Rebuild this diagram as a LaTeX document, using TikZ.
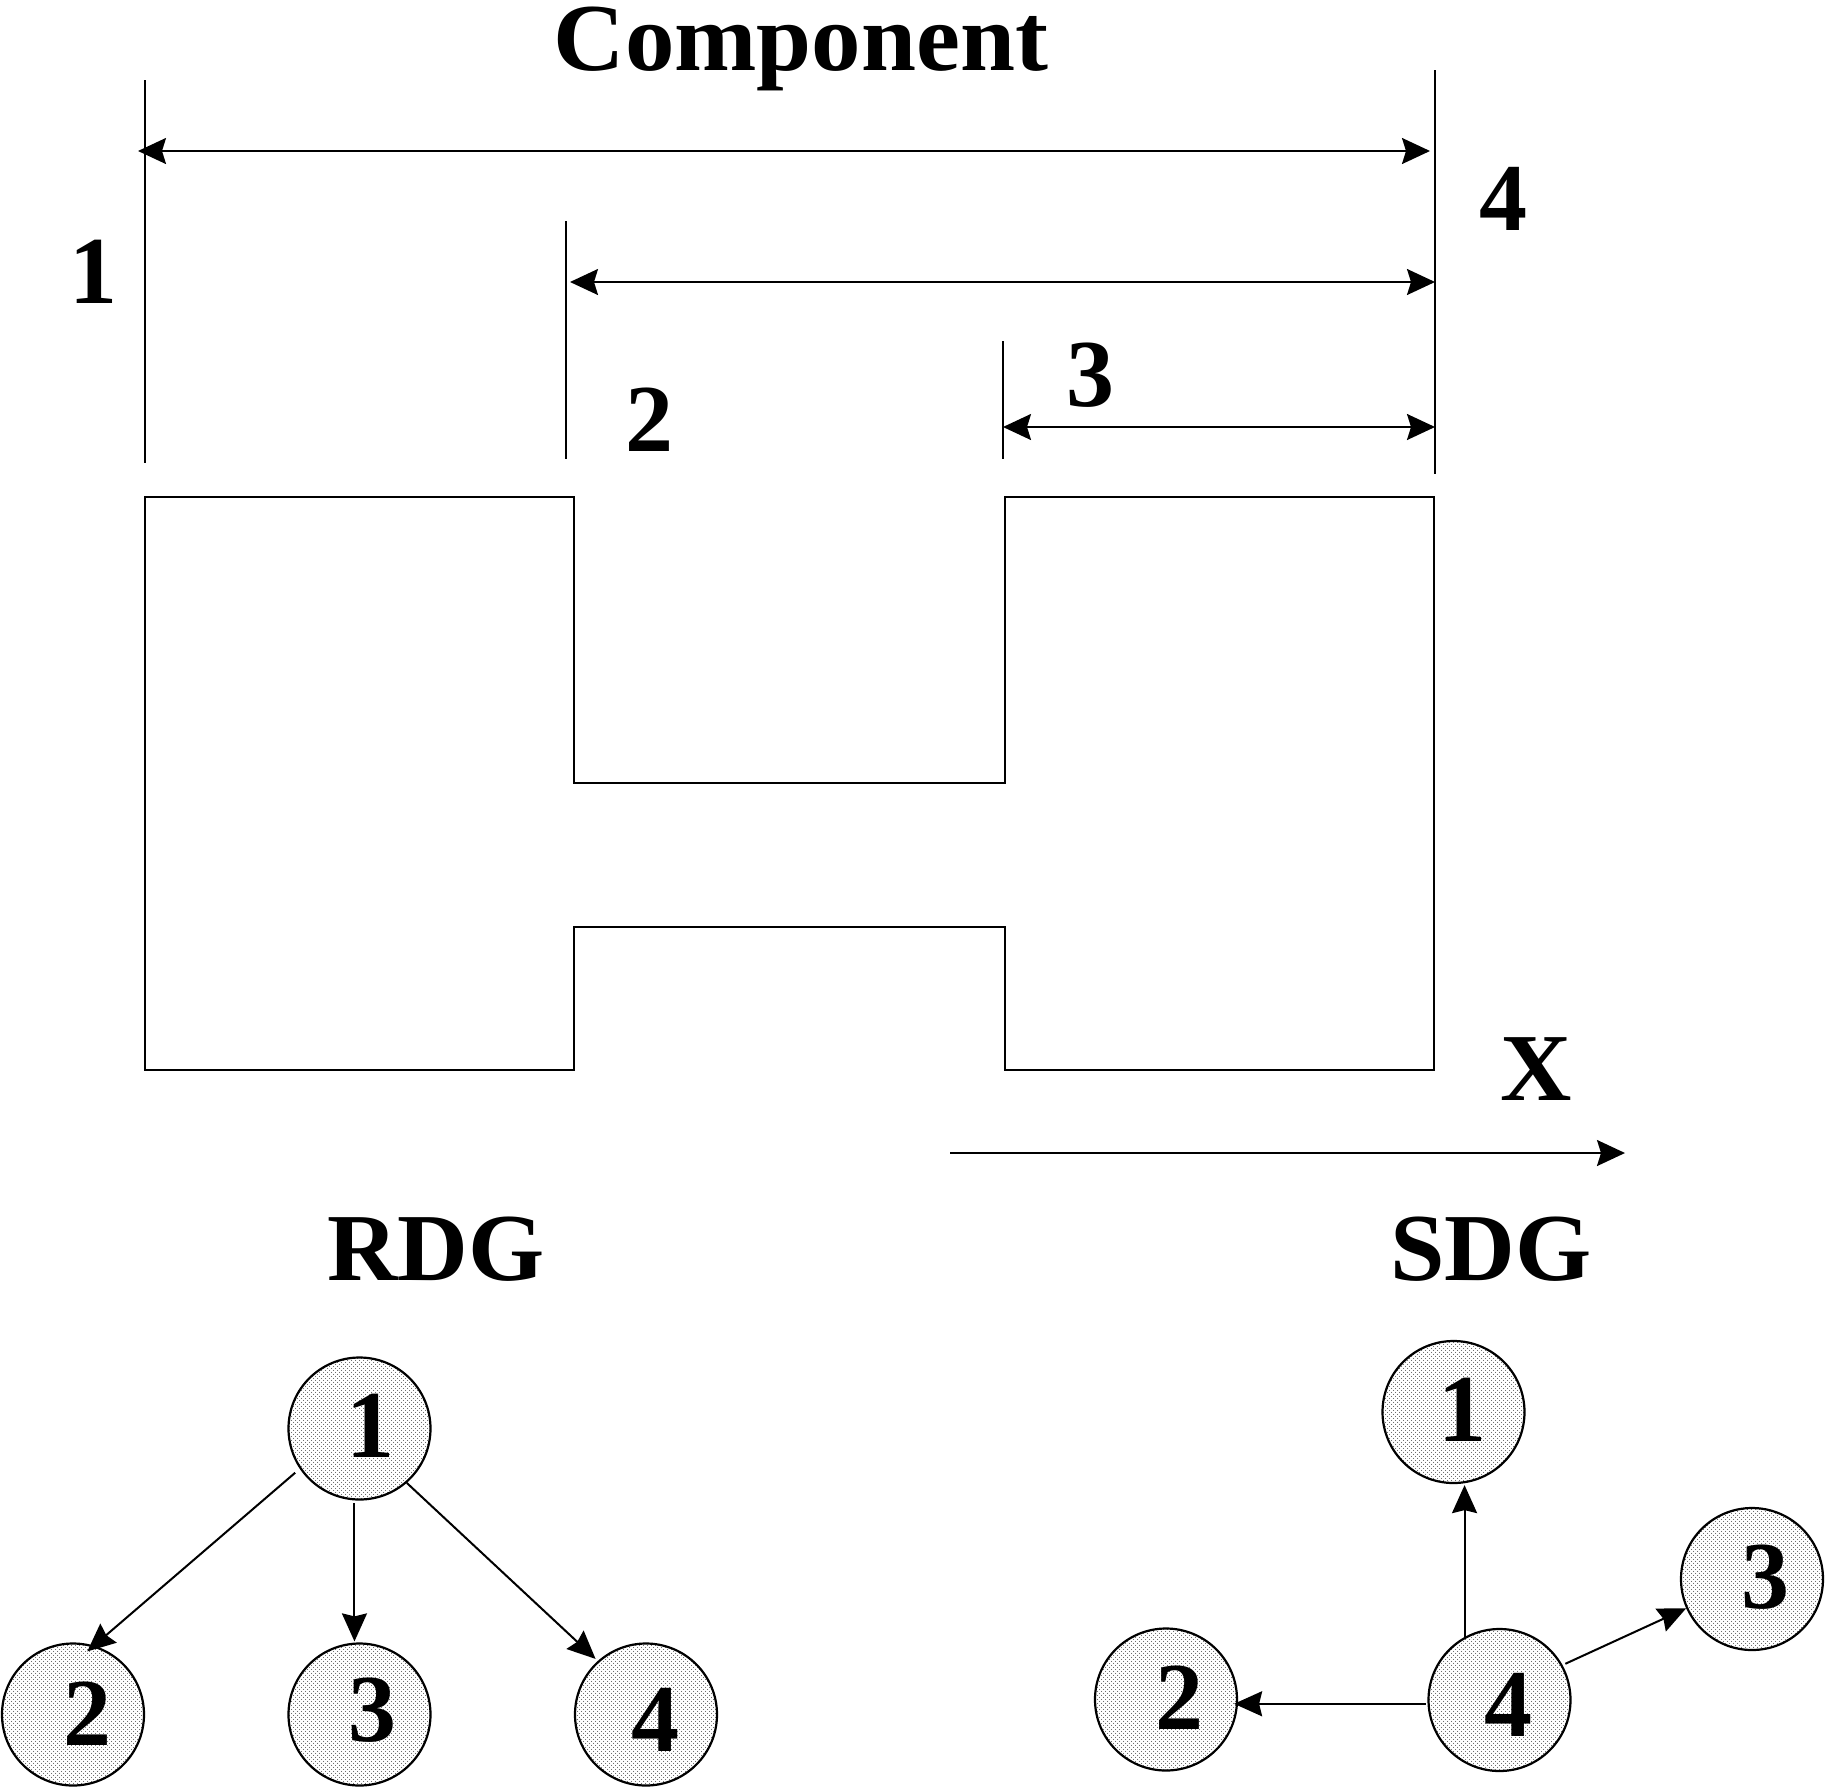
\documentclass[tikz,border=0pt]{standalone}
\usepackage{fontspec}
\setmainfont{Liberation Serif}
\usetikzlibrary{arrows.meta,patterns.meta}
\tikzset{
  x=1pt,y=-1pt,
  arr/.style={line width=2pt,-{Stealth[length=28pt,width=26pt,inset=4pt]}},
  dbl/.style={line width=2pt,{Stealth[length=28pt,width=26pt,inset=4pt]}-{Stealth[length=28pt,width=26pt,inset=4pt]}},
  sarr/.style={line width=2pt,-{Stealth[length=28pt,width=25pt,inset=3pt]}},
  lab/.style={font=\fontsize{96}{96}\selectfont\bfseries,anchor=base,inner sep=0pt,text=black},
  gnode/.style={circle,draw=black,line width=2.2pt,minimum size=142pt,inner sep=0pt,
    preaction={pattern={Dots[radius=0.52pt,distance=4pt]},pattern color=black},
    postaction={pattern={Dots[radius=0.52pt,distance=4pt,xshift=2pt,yshift=2pt]},pattern color=black}},
}
\begin{document}
\begin{tikzpicture}
\useasboundingbox (0,0) rectangle (1825,1788);
% extension lines
\coordinate (e1a) at (144.5,80); \coordinate (e1b) at (144.5,463);
\coordinate (e2a) at (566,221); \coordinate (e2b) at (566,459);
\coordinate (e3a) at (1003,341); \coordinate (e3b) at (1003,459);
\coordinate (e4a) at (1435,70); \coordinate (e4b) at (1435,474);
\draw[line width=2pt] (e1a)--(e1b) (e2a)--(e2b) (e3a)--(e3b) (e4a)--(e4b);
% dimension arrows
\coordinate (d1a) at (138,151); \coordinate (d1b) at (1430,151);
\coordinate (d2a) at (570,282); \coordinate (d2b) at (1435,282);
\coordinate (d3a) at (1003,427); \coordinate (d3b) at (1435,427);
\draw[dbl] (d1a)--(d1b);
\draw[dbl] (d2a)--(d2b);
\draw[dbl] (d3a)--(d3b);
% component
\draw[line width=2pt] (144.5,497)--(574,497)--(574,783)--(1004.5,783)--(1004.5,497)--(1434,497)
  --(1434,1069.5)--(1004.5,1069.5)--(1004.5,926.5)--(574,926.5)--(574,1069.5)--(144.5,1069.5)--cycle;
% x arrow
\coordinate (xa) at (950,1153); \coordinate (xb) at (1625,1153);
\draw[arr] (xa)--(xb);
% labels
\node[lab,xscale=1.03] (comp) at (801,70) {Component};
\node[lab] (l1) at (93,303) {1};
\node[lab] (l2) at (649,451) {2};
\node[lab] (l3) at (1090,406) {3};
\node[lab] (l4) at (1503,230) {4};
\node[lab,xscale=1.03] (lx) at (1536,1100) {X};
\node[lab,xscale=1.02] (rdg) at (436,1280) {RDG};
\node[lab,xscale=1.02] (sdg) at (1491,1280) {SDG};
% RDG
\node[gnode] (r1) at (359.5,1428.5) {};
\node[gnode] (r2) at (73,1714.5) {};
\node[gnode] (r3) at (359.5,1714.5) {};
\node[gnode] (r4) at (646,1714.5) {};
\node[lab] at (370,1457) {1};
\node[lab] at (87.5,1745) {2};
\node[lab] at (372,1741) {3};
\node[lab] at (655,1751) {4};
\draw[sarr,shorten <=6pt,shorten >=-9pt] (r1.214.5)--(r2.73);
\draw[sarr,shorten <=3pt,shorten >=1pt] (r1.266)--(r1.266 |- r3.north);
\draw[sarr,shorten >=3pt] (r1.-49.6)--(r4.132);
% SDG
\node[gnode] (s1) at (1453.5,1412) {};
\node[gnode] (s2) at (1166,1699.5) {};
\node[gnode] (s3) at (1752,1579) {};
\node[gnode] (s4) at (1499.5,1700) {};
\node[lab] at (1462,1441) {1};
\node[lab] at (1179,1729) {2};
\node[lab] at (1765,1608) {3};
\node[lab] at (1508,1736) {4};
\draw[sarr,shorten >=1pt] (s4.119)--(s4.119 |- s1.south);
\draw[sarr,shorten <=2pt,shorten >=-4pt] (s4.183)--(s4.183 -| s2.east);
\draw[sarr,shorten <=3pt] (s4.29.5)--(s3.204);
\end{tikzpicture}
\end{document}
